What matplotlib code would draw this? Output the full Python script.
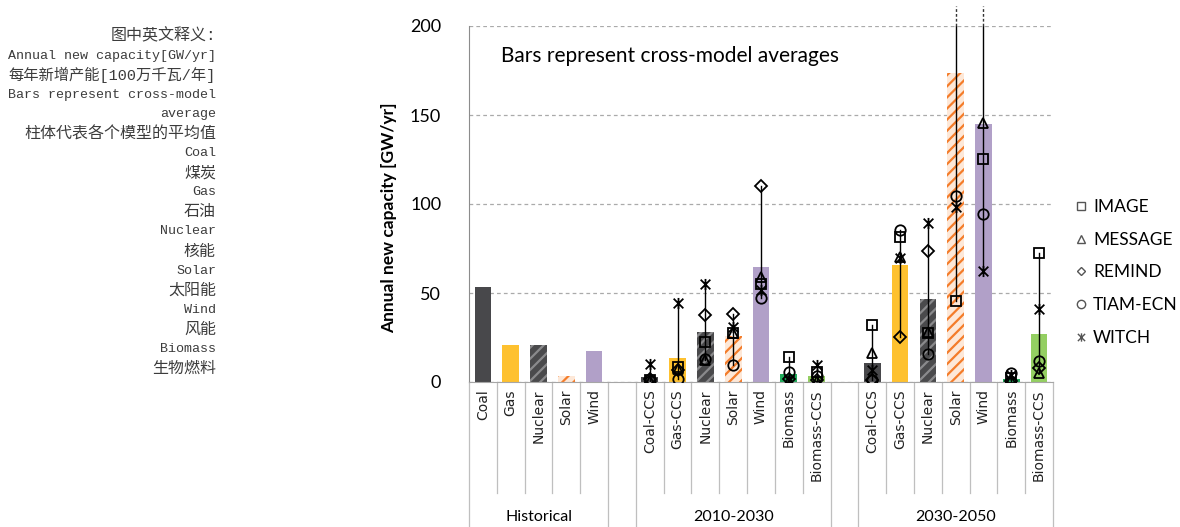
import numpy as np
import matplotlib.pyplot as plt
from matplotlib.lines import Line2D
from matplotlib.path import Path

# ------------------------------------------------------------------
# DATI
# ------------------------------------------------------------------
groups = ["Historical", "2010-2030", "2030-2050"]
hist_cats = ["Coal", "Gas", "Nuclear", "Solar", "Wind"]
fut_cats = ["Coal-CCS", "Gas-CCS", "Nuclear", "Solar", "Wind", "Biomass", "Biomass-CCS"]

hist_avg = [53.3, 21.0, 20.6, 3.3, 17.6]
avg_2030 = [2.8, 13.7, 28.0, 26.0, 64.8, 4.3, 3.2]
avg_2050 = [10.8, 65.7, 46.4, 173.8, 145.0, 1.7, 27.2]

models = ["IMAGE", "MESSAGE", "REMIND", "TIAM-ECN", "WITCH"]
image_2030 = [1.0, 8.6, 22.3, 27.3, 54.9, 14.2, 5.5]
message_2030 = [0.3, 7.5, 12.4, 27.7, 59.2, 0.5, 0.5]
remind_2030 = [1.5, 6.5, 37.5, 38.0, 110.3, 1.5, 1.0]
tiam_2030 = [0.8, 1.8, 13.1, 9.4, 47.0, 5.8, 3.2]
witch_2030 = [10.3, 44.6, 55.0, 31.0, 51.7, 1.0, 9.8]

image_2050 = [32.0, 81.6, 27.7, 45.5, 125.3, 2.0, 72.6]
message_2050 = [16.1, 70.4, 28.0, 290.0, 145.7, 1.0, 4.9]
remind_2050 = [1.0, 25.5, 73.8, 330.0, 297.0, 0.5, 7.7]
tiam_2050 = [1.2, 85.4, 15.5, 104.5, 94.2, 5.0, 11.8]
witch_2050 = [6.7, 69.5, 89.5, 98.5, 62.4, 4.0, 40.8]

notes = ["图中英文释义:", "Annual new capacity[GW/yr]", "每年新增产能[100万千瓦/年]",
         "Bars represent cross-model", "average", "柱体代表各个模型的平均值",
         "Coal", "煤炭", "Gas", "石油", "Nuclear", "核能", "Solar", "太阳能",
         "Wind", "风能", "Biomass", "生物燃料"]

# ------------------------------------------------------------------
# STILI
# ------------------------------------------------------------------
styles = {
    "Coal": ("#48484b", None, None),
    "Coal-CCS": ("#48484b", None, None),
    "Gas": ("#fec12f", None, None),
    "Gas-CCS": ("#fec12f", None, None),
    "Nuclear": ("#4a4a4c", "///", "#8a8a8c"),
    "Solar": ("#fde8d8", "///", "#f47c2a"),
    "Wind": ("#b1a0c8", None, None),
    "Biomass": ("#21ac5b", None, None),
    "Biomass-CCS": ("#94cf62", None, None),
}

witch_marker = Path([(-1, -1), (1, 1), (-1, 1), (1, -1), (0, -1.15), (0, 1.15)],
                    [Path.MOVETO, Path.LINETO] * 3)
model_markers = ["s", "^", "D", "o", witch_marker]
model_sizes = [7, 7.5, 6, 7.5, 8]
legend_sizes = [5.5, 6, 4.5, 6, 6]

plt.rcParams["hatch.linewidth"] = 1.6
plt.rcParams["font.family"] = ["Lato", "DejaVu Sans"]

fig = plt.figure(figsize=(11.8, 5.27), dpi=100)
ax = fig.add_axes([469 / 1180, (527 - 382) / 527, (1053 - 469) / 1180, (382 - 26) / 527])

hist_x = np.arange(len(hist_cats)) + 0.5
x_2030 = np.arange(len(fut_cats)) + 6.5
x_2050 = np.arange(len(fut_cats)) + 14.5


def draw_bars(xs, cats, vals):
    for x, cat, v in zip(xs, cats, vals):
        fc, hatch, hc = styles[cat]
        ax.bar(x, v, width=0.6, color=fc, hatch=hatch,
               edgecolor=hc if hc else fc, linewidth=0, zorder=2)


def draw_models(xs, series):
    series = np.array(series)
    for j, x in enumerate(xs):
        vals = series[:, j]
        lo, hi = vals.min(), vals.max()
        ax.plot([x, x], [lo, min(hi, 200)], color="black", lw=1, zorder=3)
        if hi > 200:
            ax.plot([x, x], [200, 211], color="#333333", lw=1, ls=(0, (2, 1.5)),
                    clip_on=False, zorder=3)
    for k in range(len(models)):
        ax.plot(xs, series[k], ls="none", marker=model_markers[k], ms=model_sizes[k],
                mfc="none", mec="black", mew=1.3, zorder=4)


draw_bars(hist_x, hist_cats, hist_avg)
draw_bars(x_2030, fut_cats, avg_2030)
draw_bars(x_2050, fut_cats, avg_2050)
draw_models(x_2030, [image_2030, message_2030, remind_2030, tiam_2030, witch_2030])
draw_models(x_2050, [image_2050, message_2050, remind_2050, tiam_2050, witch_2050])

ax.set_xlim(0, 21)
ax.set_ylim(0, 200)
ax.set_yticks([0, 50, 100, 150, 200])
ax.set_xticks([])
ax.tick_params(axis="y", length=0, pad=20, labelsize=13)
ax.yaxis.grid(True, ls=(0, (3, 2.5)), color="#aaaaaa", lw=0.9)
ax.set_axisbelow(True)
for s in ["top", "right"]:
    ax.spines[s].set_visible(False)
ax.spines["left"].set_color("#8c8c8c")
ax.spines["bottom"].set_color("#a6a6a6")

ax.set_ylabel("Annual new capacity [GW/yr]", fontsize=12.5, fontweight="bold")
ax.yaxis.set_label_coords(-0.123, 0.46)

ax.text(1.15, 183, "Bars represent cross-model averages", fontsize=15, va="center")

# etichette di categoria e separatori
trans = ax.get_xaxis_transform()
cat_bottom = -(493 - 382) / 356
fig_bottom = -(527 - 382) / 356
for xs, cats in [(hist_x, hist_cats), (x_2030, fut_cats), (x_2050, fut_cats)]:
    for x, cat in zip(xs, cats):
        ax.text(x, -0.02, cat, transform=trans, rotation=90, ha="center", va="top",
                fontsize=10, family="DejaVu Sans", color="#222222")
for b in range(22):
    if b in (0, 5, 6, 13, 14, 21):
        y0 = fig_bottom
    else:
        y0 = cat_bottom
    ax.plot([b, b], [0, y0], transform=trans, color="#bfbfbf", lw=0.9, clip_on=False)
for cx, g in zip([2.5, 9.5, 17.5], groups):
    ax.text(cx, -(517 - 382) / 356, g, transform=trans, ha="center", va="center",
            fontsize=11.5)

# legenda
handles = [Line2D([], [], ls="none", marker=m, ms=s, mfc="none", mec="#555555", mew=1)
           for m, s in zip(model_markers, legend_sizes)]
fig.legend(handles, models, loc="upper left", bbox_to_anchor=(1074 / 1180, 1 - 199 / 527),
           frameon=False, fontsize=12.5, handlelength=0.8, handletextpad=0.3,
           labelspacing=0.96, borderpad=0, borderaxespad=0)

# note a sinistra
for i, line in enumerate(notes):
    n_cjk = sum(ord(ch) > 0x2e80 for ch in line)
    if n_cjk == len(line) or line.endswith(":"):
        size = 11.5
    elif n_cjk:
        size = 11.0
    else:
        size = 9.6
    fig.text(216 / 1180, 1 - (36 + i * 19.55) / 527, line, ha="right", va="center",
             fontsize=size, color="#3c3c3c",
             family=["Liberation Mono", "Noto Sans CJK SC"])

plt.savefig("out.png", dpi=100)
